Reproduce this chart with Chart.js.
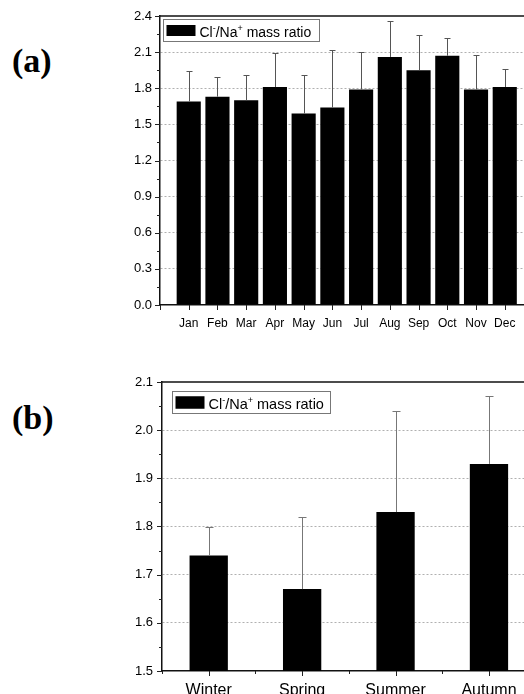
<!DOCTYPE html>
<html lang="en">
<head>
<meta charset="UTF-8">
<title>Cl-/Na+ mass ratio</title>
<script src="https://cdn.jsdelivr.net/npm/chart.js"></script>
<style>
  body { margin: 0; background: #fff; overflow: hidden; }
  .wrap { position: relative; width: 524px; height: 694px; }
  .panel { position: absolute; left: 0; width: 524px; }
  .tag { position: absolute; left: 12px; line-height: 34px; font: bold 34px "Liberation Serif", "Times New Roman", serif; }
</style>
</head>
<body>
<div class="wrap">
  <div class="tag" style="top:42px">(a)</div>
  <div class="panel" style="top:0;height:340px"><canvas id="chart-a"></canvas></div>
  <div class="tag" style="top:399px">(b)</div>
  <div class="panel" style="top:345px;height:349px"><canvas id="chart-b"></canvas></div>
</div>

<script>
// monthly ratio (panel a)
const months = ['Jan', 'Feb', 'Mar', 'Apr', 'May', 'Jun', 'Jul', 'Aug', 'Sep', 'Oct', 'Nov', 'Dec'];
const monthMean = [1.69, 1.73, 1.70, 1.81, 1.59, 1.64, 1.79, 2.06, 1.95, 2.07, 1.79, 1.81];
const monthErr = [0.25, 0.16, 0.21, 0.28, 0.32, 0.48, 0.31, 0.30, 0.29, 0.15, 0.29, 0.15];

// seasonal ratio (panel b)
const seasons = ['Winter', 'Spring', 'Summer', 'Autumn'];
const seasonMean = [1.74, 1.67, 1.83, 1.93];
const seasonErr = [0.06, 0.15, 0.21, 0.14];

const seriesLabel = 'Cl⁻/Na⁺ mass ratio';
const FONT = '"Liberation Sans", Arial, sans-serif';

// upper error bars only
const errorBars = {
    id: 'errorBars',
    afterDatasetsDraw(chart, args, opts) {
        const ctx = chart.ctx;
        const y = chart.scales.y;
        const ds = chart.data.datasets[0];
        ctx.save();
        ctx.strokeStyle = opts.color;
        ctx.lineWidth = 1;
        chart.getDatasetMeta(0).data.forEach((bar, i) => {
            const top = Math.round(y.getPixelForValue(ds.data[i].y + opts.errors[i])) + 0.5;
            const x = Math.round(bar.x) + 0.5;
            ctx.beginPath();
            ctx.moveTo(x, bar.y);
            ctx.lineTo(x, top);
            ctx.moveTo(x - opts.cap, top);
            ctx.lineTo(x + opts.cap, top);
            ctx.stroke();
        });
        ctx.restore();
    }
};

// outward tick marks (major + minor) and the top frame line
const tickMarks = {
    id: 'tickMarks',
    afterDraw(chart, args, opts) {
        const ctx = chart.ctx, a = chart.chartArea;
        ctx.save();
        ctx.strokeStyle = '#222';
        ctx.lineWidth = 1;
        ['x', 'y'].forEach(id => {
            const s = chart.scales[id], o = opts[id];
            for (let v = o.from; v <= o.to + 1e-9; v += o.step) {
                const q = v / o.major;
                const len = Math.abs(q - Math.round(q)) < 1e-6 ? 5 : 3;
                const p = Math.round(s.getPixelForValue(v)) + 0.5;
                ctx.beginPath();
                if (id === 'x') {
                    ctx.moveTo(p, a.bottom);
                    ctx.lineTo(p, a.bottom + len);
                } else {
                    ctx.moveTo(a.left, p);
                    ctx.lineTo(a.left - len, p);
                }
                ctx.stroke();
            }
        });
        ctx.lineWidth = 1.5;
        ctx.strokeStyle = '#111';
        ctx.beginPath();
        ctx.moveTo(a.left, a.top);
        ctx.lineTo(a.right, a.top);
        ctx.stroke();
        ctx.restore();
    }
};

// boxed legend with superscript charges
const ratioLegend = {
    id: 'ratioLegend',
    afterDraw(chart, args, o) {
        const ctx = chart.ctx, a = chart.chartArea;
        const x = Math.round(a.left + o.dx) + 0.5, y = Math.round(a.top + o.dy) + 0.5;
        ctx.save();
        ctx.fillStyle = '#fff';
        ctx.fillRect(x, y, o.w, o.h);
        ctx.strokeStyle = '#777';
        ctx.lineWidth = 1;
        ctx.strokeRect(x, y, o.w, o.h);
        ctx.fillStyle = '#000';
        ctx.fillRect(x + 3, y + (o.h - o.sh) / 2, o.sw, o.sh);
        const big = o.size + 'px ' + FONT;
        const small = Math.round(o.size * 0.62) + 'px ' + FONT;
        const base = y + o.base;
        const parts = [
            ['Cl', big, 0], ['-', small, o.size * 0.42],
            ['/Na', big, 0], ['+', small, o.size * 0.42],
            [' mass ratio', big, 0]
        ];
        let tx = x + 3 + o.sw + 4;
        ctx.textBaseline = 'alphabetic';
        parts.forEach(([t, f, rise]) => {
            ctx.font = f;
            ctx.fillText(t, tx, base - rise);
            tx += ctx.measureText(t).width;
        });
        ctx.restore();
    }
};

const gridColor = (lo, hi) => c =>
    (c.tick && c.tick.value > lo + 1e-6 && c.tick.value < hi - 1e-6) ? '#b0b0b0' : 'rgba(0,0,0,0)';

// panel (a)
new Chart(document.getElementById('chart-a'), {
    type: 'bar',
    data: {
        datasets: [{
            label: seriesLabel,
            data: monthMean.map((v, i) => ({ x: i + 1, y: v })),
            backgroundColor: '#000',
            barPercentage: 0.84,
            categoryPercentage: 1
        }]
    },
    options: {
        responsive: true,
        maintainAspectRatio: false,
        animation: false,
        layout: { padding: { top: 16, left: 0, right: 0, bottom: 0 } },
        plugins: {
            legend: { display: false },
            tooltip: { enabled: false },
            errorBars: { errors: monthErr, color: '#555', cap: 3 },
            tickMarks: {
                x: { from: 0, to: 12, step: 1, major: 1 },
                y: { from: 0, to: 2.4, step: 0.15, major: 0.3 }
            },
            ratioLegend: { dx: 3, dy: 2.5, w: 156, h: 22, sw: 29, sh: 11, size: 14, base: 17.5 }
        },
        scales: {
            x: {
                type: 'linear',
                offset: false,
                min: 0,
                max: 12.67,
                grid: { display: false },
                border: { color: '#111', width: 1.5 },
                ticks: {
                    stepSize: 1,
                    includeBounds: false,
                    autoSkip: false,
                    maxRotation: 0,
                    padding: 3,
                    color: '#000',
                    font: { family: FONT, size: 12 },
                    callback: v => months[v - 1] || ''
                },
                afterFit: s => { s.height = 35; }
            },
            y: {
                min: 0,
                max: 2.4,
                grid: { color: gridColor(0, 2.4), drawTicks: false, lineWidth: 1 },
                border: { color: '#111', width: 1.5, dash: [2, 2] },
                ticks: {
                    stepSize: 0.3,
                    padding: 8,
                    color: '#000',
                    font: { family: FONT, size: 13 },
                    callback: v => v.toFixed(1)
                },
                afterFit: s => { s.width = 160; }
            }
        }
    },
    plugins: [errorBars, tickMarks, ratioLegend]
});

// panel (b)
new Chart(document.getElementById('chart-b'), {
    type: 'bar',
    data: {
        datasets: [{
            label: seriesLabel,
            data: seasonMean.map((v, i) => ({ x: i + 1, y: v })),
            backgroundColor: '#000',
            barPercentage: 0.41,
            categoryPercentage: 1
        }]
    },
    options: {
        responsive: true,
        maintainAspectRatio: false,
        animation: false,
        layout: { padding: { top: 37, left: 0, right: 0, bottom: 0 } },
        plugins: {
            legend: { display: false },
            tooltip: { enabled: false },
            errorBars: { errors: seasonErr, color: '#777', cap: 4 },
            tickMarks: {
                x: { from: 0.5, to: 4, step: 0.5, major: 1 },
                y: { from: 1.5, to: 2.1, step: 0.05, major: 0.1 }
            },
            ratioLegend: { dx: 10, dy: 8.5, w: 158, h: 22, sw: 29, sh: 12.5, size: 14.5, base: 17.7 }
        },
        scales: {
            x: {
                type: 'linear',
                offset: false,
                min: 0.5,
                max: 4.375,
                grid: { display: false },
                border: { color: '#111', width: 1.5 },
                ticks: {
                    stepSize: 1,
                    includeBounds: false,
                    autoSkip: false,
                    maxRotation: 0,
                    padding: 2,
                    color: '#000',
                    font: { family: FONT, size: 16 },
                    callback: v => seasons[v - 1] || ''
                },
                afterFit: s => { s.height = 23; }
            },
            y: {
                min: 1.5,
                max: 2.1,
                grid: { color: gridColor(1.5, 2.1), drawTicks: false, lineWidth: 1 },
                border: { color: '#111', width: 1.5, dash: [2, 2] },
                ticks: {
                    stepSize: 0.1,
                    padding: 9,
                    color: '#000',
                    font: { family: FONT, size: 13 },
                    callback: v => v.toFixed(1)
                },
                afterFit: s => { s.width = 162; }
            }
        }
    },
    plugins: [errorBars, tickMarks, ratioLegend]
});
</script>
</body>
</html>
